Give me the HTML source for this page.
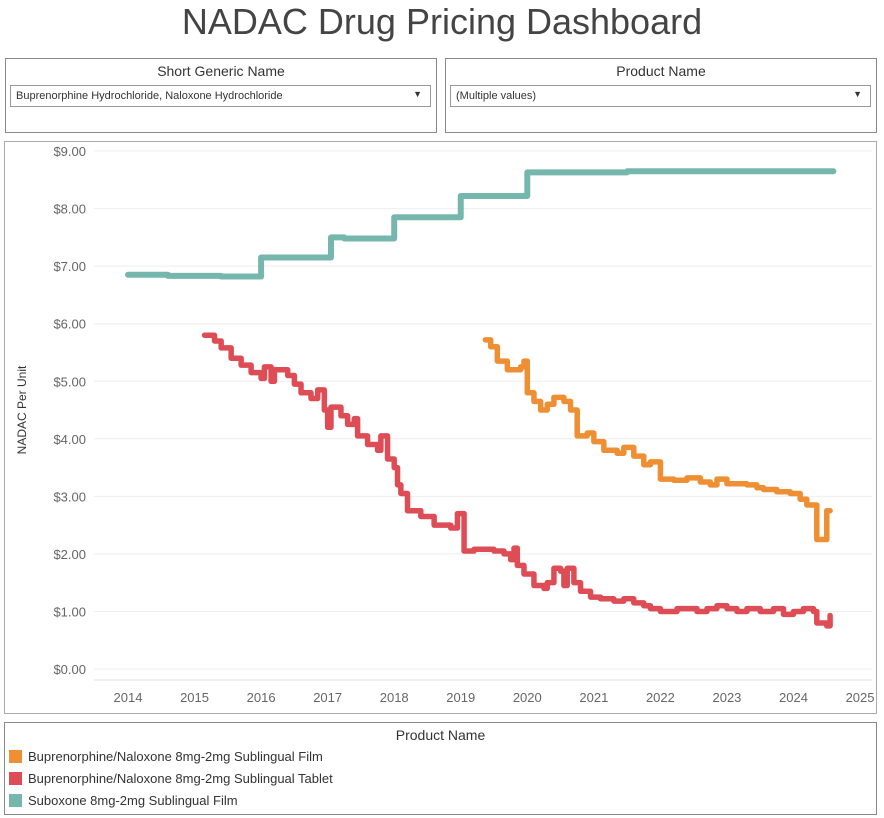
<!DOCTYPE html>
<html><head><meta charset="utf-8"><style>
body{margin:0;width:884px;height:818px;background:#fff;font-family:"Liberation Sans",sans-serif;color:#333;position:relative;overflow:hidden}
.box{position:absolute;border:1px solid #888;background:#fff}
.lbl{position:absolute;width:100%;text-align:center;font-size:14px;color:#333}
.sel{position:absolute;border:1px solid #999;font-size:11px;padding:4px 5px;box-sizing:border-box;height:22px}
.sel span{position:absolute;right:8px;top:3px;font-size:9px}
</style></head><body>
<div style="position:absolute;top:0;width:884px;text-align:center;font-size:36px;color:#444;line-height:44px">NADAC Drug Pricing Dashboard</div>
<div class="box" style="left:5px;top:58px;width:430px;height:73px">
 <div class="lbl" style="top:4px">Short Generic Name</div>
 <div class="sel" style="left:4px;top:26px;width:421px">Buprenorphine Hydrochloride, Naloxone Hydrochloride<span>▼</span></div>
</div>
<div class="box" style="left:445px;top:58px;width:430px;height:73px">
 <div class="lbl" style="top:4px">Product Name</div>
 <div class="sel" style="left:4px;top:26px;width:421px">(Multiple values)<span>▼</span></div>
</div>
<div class="box" style="left:4px;top:141px;width:871px;height:571px;border-color:#aaa"></div>
<svg id="chart" width="884" height="818" style="position:absolute;left:0;top:0"></svg>
<div class="box" style="left:4px;top:722px;width:871px;height:91px">
 <div class="lbl" style="top:4px">Product Name</div>
 <div style="position:absolute;left:4px;top:26px;font-size:13px"><span style="display:inline-block;width:13px;height:13px;background:#ef8f34;vertical-align:-2px;margin-right:6px"></span>Buprenorphine/Naloxone 8mg-2mg Sublingual Film</div>
 <div style="position:absolute;left:4px;top:48px;font-size:13px"><span style="display:inline-block;width:13px;height:13px;background:#de4d55;vertical-align:-2px;margin-right:6px"></span>Buprenorphine/Naloxone 8mg-2mg Sublingual Tablet</div>
 <div style="position:absolute;left:4px;top:70px;font-size:13px"><span style="display:inline-block;width:13px;height:13px;background:#76b7ad;vertical-align:-2px;margin-right:6px"></span>Suboxone 8mg-2mg Sublingual Film</div>
</div>
<script>
const yTicks=[0,1,2,3,4,5,6,7,8,9];
const xTicks=[2014,2015,2016,2017,2018,2019,2020,2021,2022,2023,2024,2025];
const suboxoneYears=[2014.0,2014.6,2015.4,2016.0,2016.75,2017.05,2017.25,2018.0,2019.0,2020.0,2021.5,2024.6];
const suboxoneValues=[6.85,6.83,6.82,7.15,7.15,7.50,7.48,7.85,8.22,8.63,8.65,8.65];
const filmYears=[2019.37,2019.45,2019.55,2019.7,2019.9,2019.95,2020.0,2020.1,2020.2,2020.3,2020.4,2020.55,2020.65,2020.75,2020.9,2021.0,2021.15,2021.35,2021.45,2021.6,2021.75,2021.85,2022.0,2022.2,2022.4,2022.6,2022.75,2022.85,2023.0,2023.3,2023.45,2023.55,2023.75,2023.95,2024.1,2024.2,2024.35,2024.5,2024.55];
const filmValues=[5.72,5.60,5.35,5.20,5.25,5.35,4.80,4.65,4.50,4.60,4.72,4.65,4.50,4.05,4.10,3.95,3.80,3.75,3.85,3.70,3.55,3.60,3.30,3.28,3.32,3.25,3.20,3.30,3.22,3.20,3.15,3.12,3.08,3.05,2.95,2.85,2.25,2.75,2.75];
const tabletYears=[2015.15,2015.3,2015.4,2015.55,2015.7,2015.85,2016.0,2016.05,2016.15,2016.2,2016.4,2016.5,2016.6,2016.75,2016.85,2016.95,2017.0,2017.05,2017.2,2017.3,2017.4,2017.45,2017.6,2017.75,2017.8,2017.9,2018.0,2018.05,2018.1,2018.2,2018.4,2018.6,2018.85,2018.95,2019.05,2019.2,2019.5,2019.65,2019.75,2019.8,2019.85,2019.95,2020.1,2020.25,2020.3,2020.4,2020.5,2020.55,2020.6,2020.7,2020.8,2020.95,2021.1,2021.3,2021.45,2021.6,2021.75,2021.85,2022.0,2022.15,2022.25,2022.4,2022.55,2022.7,2022.85,2023.0,2023.15,2023.3,2023.5,2023.7,2023.85,2024.0,2024.15,2024.3,2024.35,2024.5,2024.55];
const tabletValues=[5.80,5.70,5.58,5.40,5.28,5.15,5.05,5.25,5.00,5.20,5.10,4.95,4.80,4.70,4.85,4.50,4.20,4.55,4.40,4.25,4.35,4.05,3.90,3.80,4.05,3.65,3.50,3.20,3.05,2.75,2.65,2.50,2.45,2.70,2.05,2.08,2.05,2.00,1.90,2.10,1.80,1.65,1.45,1.40,1.50,1.75,1.70,1.45,1.75,1.50,1.35,1.25,1.22,1.18,1.22,1.15,1.10,1.05,1.00,1.00,1.05,1.05,1.00,1.05,1.10,1.05,1.00,1.05,1.00,1.05,0.95,1.00,1.05,1.00,0.80,0.75,0.93];
const svg=document.getElementById('chart');const NS='http://www.w3.org/2000/svg';
function xs(y){return 128+(y-2014)*66.55;}
function ys(v){return 669-v*57.55;}
function mk(t,a){const e=document.createElementNS(NS,t);for(const k in a)e.setAttribute(k,a[k]);svg.appendChild(e);return e;}
yTicks.forEach(v=>{
 const g=mk('line',{x1:94,x2:872,y1:ys(v),y2:ys(v),stroke:'#eee','stroke-width':1});
 
 
 const t=mk('text',{x:86,y:ys(v)+5,'text-anchor':'end','font-size':13,fill:'#666','font-family':'Liberation Sans'});
 t.textContent='$'+v.toFixed(2);
 
 
});
const ax=mk('line',{x1:94,x2:872,y1:680,y2:680,stroke:'#ddd'});


xTicks.forEach(y=>{
 const t=mk('text',{x:xs(y),y:702,'text-anchor':'middle','font-size':13,fill:'#666','font-family':'Liberation Sans'});
 t.textContent=y;
 
 
});
const yt=mk('text',{x:0,y:0,transform:'translate(26,410) rotate(-90)','text-anchor':'middle','font-size':12,fill:'#333','font-family':'Liberation Sans'});
yt.textContent='NADAC Per Unit';


function step(xv,yv,color,w,name){
 let d='M'+xs(xv[0])+' '+ys(yv[0]);
 for(let i=1;i<xv.length;i++){d+=' H'+xs(xv[i])+' V'+ys(yv[i]);}
 const p=mk('path',{d:d,fill:'none',stroke:color,'stroke-width':w,'stroke-linejoin':'round','stroke-linecap':'round'});
 
 
}
step(suboxoneYears,suboxoneValues,'#76b7ad',6,'suboxone-line');
step(filmYears,filmValues,'#ef8f34',5.5,'film-line');
step(tabletYears,tabletValues,'#de4d55',5.5,'tablet-line');
</script>
</body></html>
